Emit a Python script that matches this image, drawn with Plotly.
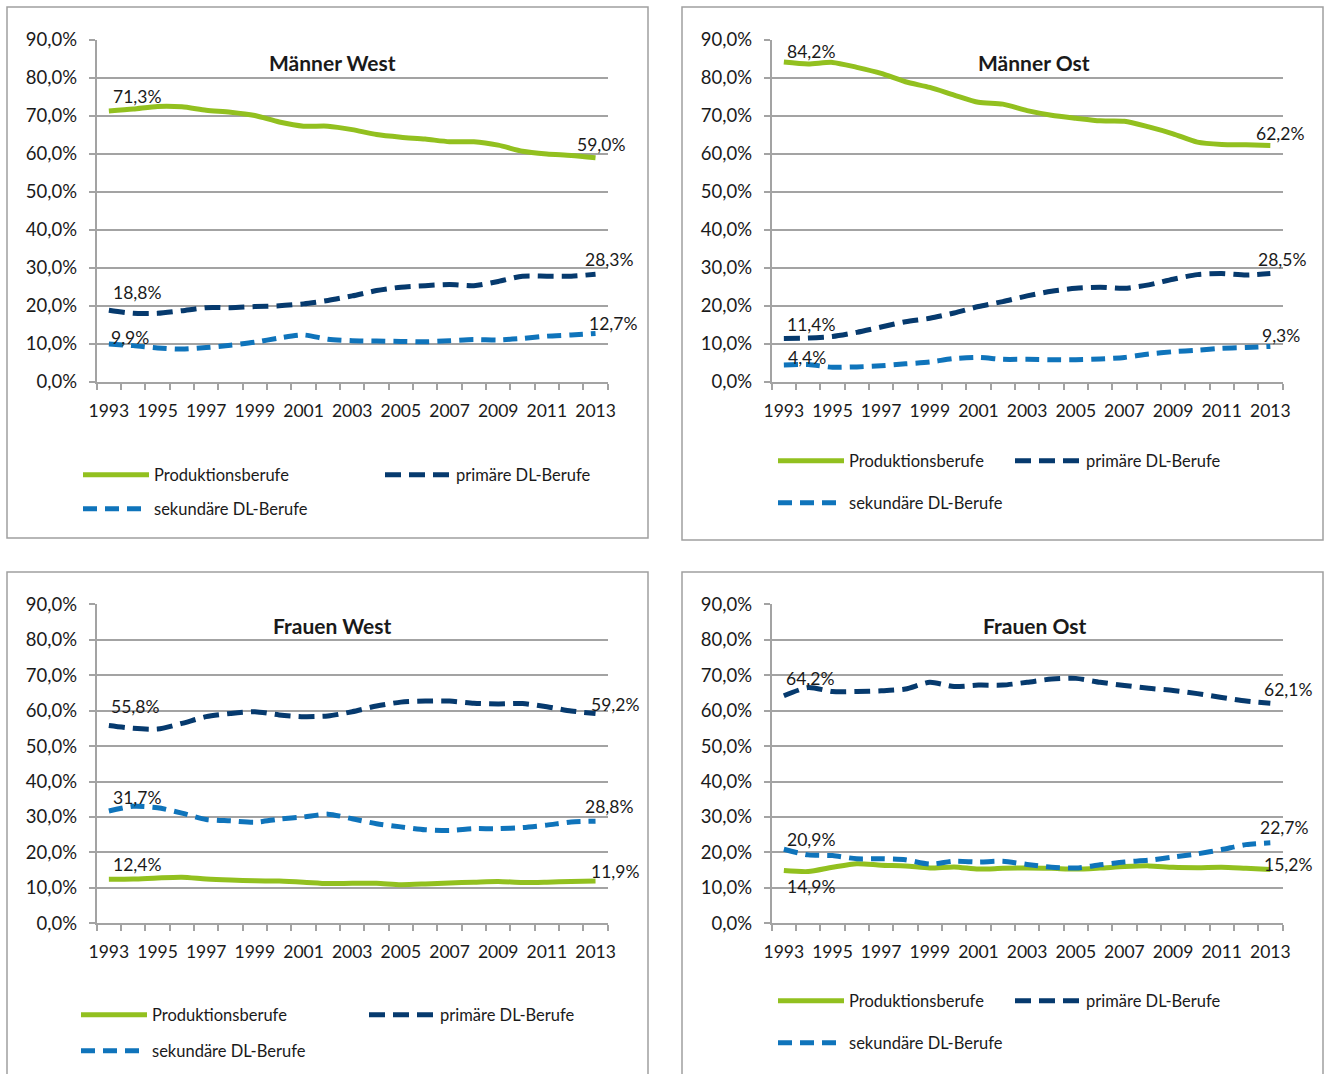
import plotly.graph_objects as go

# ---------------- data ----------------
years = list(range(1993, 2014))
panel_titles = ["Männer West", "Männer Ost", "Frauen West", "Frauen Ost"]
series_names = ["Produktionsberufe", "primäre DL-Berufe", "sekundäre DL-Berufe"]
y_ticks = [0, 10, 20, 30, 40, 50, 60, 70, 80, 90]
x_ticklabels = [1993, 1995, 1997, 1999, 2001, 2003, 2005, 2007, 2009, 2011, 2013]

mw_prod = [71.3, 71.8, 72.5, 72.4, 71.5, 71.0, 70.1, 68.4, 67.3, 67.3, 66.4, 65.1, 64.4, 63.9, 63.2, 63.2, 62.3, 60.7, 60.0, 59.6, 59.0]
mw_prim = [18.8, 18.0, 18.0, 18.7, 19.5, 19.5, 19.8, 20.0, 20.5, 21.4, 22.6, 24.0, 24.9, 25.3, 25.6, 25.3, 26.4, 27.8, 27.8, 27.8, 28.3]
mw_sek = [9.9, 9.5, 8.9, 8.6, 9.0, 9.6, 10.4, 11.5, 12.3, 11.2, 10.8, 10.7, 10.6, 10.5, 10.8, 11.1, 11.0, 11.4, 12.0, 12.3, 12.7]

mo_prod = [84.2, 83.7, 84.1, 82.8, 81.2, 79.0, 77.5, 75.5, 73.6, 73.1, 71.4, 70.2, 69.4, 68.7, 68.6, 67.1, 65.3, 63.1, 62.5, 62.4, 62.2]
mo_prim = [11.4, 11.5, 11.9, 13.0, 14.4, 15.8, 16.7, 18.1, 19.8, 21.1, 22.6, 23.8, 24.6, 24.9, 24.6, 25.5, 27.0, 28.2, 28.5, 28.1, 28.5]
mo_sek = [4.4, 4.5, 3.8, 3.9, 4.2, 4.7, 5.2, 6.1, 6.4, 5.9, 5.9, 5.8, 5.8, 6.0, 6.4, 7.3, 7.9, 8.3, 8.8, 9.0, 9.3]

fw_prod = [12.4, 12.5, 12.8, 13.0, 12.5, 12.2, 12.0, 11.9, 11.6, 11.2, 11.3, 11.3, 10.9, 11.1, 11.4, 11.6, 11.8, 11.5, 11.6, 11.8, 11.9]
fw_prim = [55.8, 55.0, 54.8, 56.4, 58.3, 59.2, 59.7, 58.8, 58.3, 58.5, 59.7, 61.3, 62.4, 62.7, 62.7, 62.1, 61.9, 62.0, 61.1, 59.9, 59.2]
fw_sek = [31.7, 33.0, 32.6, 31.1, 29.3, 28.9, 28.5, 29.4, 30.0, 30.8, 29.5, 28.1, 27.2, 26.4, 26.2, 26.7, 26.7, 27.0, 27.7, 28.6, 28.8]

fo_prod = [14.9, 14.6, 15.8, 16.8, 16.4, 16.2, 15.6, 15.9, 15.3, 15.5, 15.6, 15.5, 15.3, 15.6, 16.0, 16.2, 15.8, 15.7, 15.8, 15.5, 15.2]
fo_prim = [64.2, 66.5, 65.4, 65.4, 65.6, 66.1, 68.0, 66.8, 67.2, 67.2, 68.0, 68.9, 69.1, 68.0, 67.1, 66.3, 65.7, 64.8, 63.7, 62.7, 62.1]
fo_sek = [20.9, 19.3, 19.1, 18.2, 18.2, 17.9, 16.7, 17.5, 17.3, 17.5, 16.6, 15.8, 15.6, 16.5, 17.3, 17.8, 18.7, 19.6, 20.8, 22.2, 22.7]

panel_data = [
    [mw_prod, mw_prim, mw_sek],
    [mo_prod, mo_prim, mo_sek],
    [fw_prod, fw_prim, fw_sek],
    [fo_prod, fo_prim, fo_sek],
]

# ---------------- styling ----------------
W, H = 1326, 1074
FONT = "Lato"
GRID = "#a3a3a3"
TXT = "#1a1a1a"
series_style = [
    dict(color="#92c01f", width=5, dash="solid"),
    dict(color="#063a6e", width=5, dash="16px,8px"),
    dict(color="#0f74bb", width=5, dash="14px,8px"),
]
LEG_ITEM_W = 66  # legend line sample length

# plot-area pixel boxes (left, right, top, bottom)
plot_boxes = [
    (96.7, 607.7, 40.0, 381.7),
    (771.7, 1282.5, 40.0, 381.7),
    (96.7, 607.7, 604.3, 923.3),
    (771.7, 1282.5, 604.3, 923.3),
]
# panel frames (left, right, top, bottom)
frames = [(7, 648, 7, 538), (682, 1323, 7, 540), (7, 648, 572, 1080), (682, 1323, 572, 1080)]
title_pos = [(332, 63), (1034, 63), (332, 625), (1034, 625)]
# legend text start x and row y for each panel: (col1 text x, col2 text x, row1 y, row2 y)
legend_pos = [(154, 456, 475, 509), (849, 1086, 461, 503), (152, 440, 1015, 1051), (849, 1086, 1001, 1043)]
# label offsets (dx, dy) in px for first and last points of each series
label_offsets = [
    [[(28, -14), (5, -13)], [(28, -18), (13, -15)], [(21, -7), (17, -10)]],
    [[(27, -11), (10, -12)], [(27, -14), (12, -14)], [(23, -7), (11, -11)]],
    [[(28, -15), (19, -10)], [(26, -19), (19, -9)], [(28, -13), (13, -15)]],
    [[(27, 16), (18, -5)], [(26, -17), (18, -14)], [(27, -10), (14, -15)]],
]


def px_x(v):
    return v / W


def px_y(v):
    return 1 - v / H


def fmt(v):
    return f"{v:.1f}".replace(".", ",") + "%"


fig = go.Figure()
layout = dict(
    template="none",
    width=W, height=H,
    margin=dict(l=0, r=0, t=0, b=0, autoexpand=False),
    paper_bgcolor="white", plot_bgcolor="white",
    separators=",.",
    font=dict(family=FONT, size=17, color=TXT),
    showlegend=True,
)
annotations = []
shapes = []
legend_counter = 0

for p in range(4):
    sfx = "" if p == 0 else str(p + 1)
    xa, ya = "x" + sfx, "y" + sfx
    l, r, t, b = plot_boxes[p]
    layout["xaxis" + sfx] = dict(
        domain=[px_x(l), px_x(r)], anchor=ya, automargin=False,
        range=[years[0] - 0.5, years[-1] + 0.5],
        tickmode="array", tickvals=x_ticklabels, ticktext=[str(v) for v in x_ticklabels],
        ticks="", showgrid=False, zeroline=False,
        showline=True, linecolor=GRID, linewidth=2,
        tickfont=dict(family=FONT, size=17.5, color=TXT),
        ticklabelstandoff=12,
        minor=dict(tickmode="array", tickvals=[y - 0.5 for y in years] + [years[-1] + 0.5],
                   ticks="outside", ticklen=6, tickcolor=GRID, tickwidth=1.5, showgrid=False),
        fixedrange=True,
    )
    layout["yaxis" + sfx] = dict(
        domain=[px_y(b), px_y(t)], anchor=xa, automargin=False,
        range=[0, 90],
        tickmode="array", tickvals=y_ticks, ticktext=[fmt(v) for v in y_ticks],
        ticks="outside", ticklen=6, tickcolor=GRID, tickwidth=1.5,
        showgrid=True, gridcolor=GRID, gridwidth=2,
        zeroline=False, showline=True, linecolor=GRID, linewidth=2,
        tickfont=dict(family=FONT, size=18.5, color=TXT),
        ticklabelstandoff=8,
        fixedrange=True,
    )
    tx1, tx2, ry1, ry2 = legend_pos[p]
    legend_spots = [(tx1, ry1), (tx2, ry1), (tx1, ry2)]
    for s in range(3):
        vals = panel_data[p][s]
        st = series_style[s]
        legend_counter += 1
        lname = "legend" if legend_counter == 1 else f"legend{legend_counter}"
        fig.add_trace(go.Scatter(
            x=years, y=vals, mode="lines", name=series_names[s],
            line=dict(color=st["color"], width=st["width"], dash=st["dash"],
                      shape="spline", smoothing=0.7),
            xaxis=xa, yaxis=ya, legend=lname, hoverinfo="skip",
        ))
        lx, ly = legend_spots[s]
        layout[lname] = dict(
            x=px_x(lx - (LEG_ITEM_W + 10)), y=px_y(ly), xanchor="left", yanchor="middle",
            orientation="v", bgcolor="rgba(0,0,0,0)", borderwidth=0,
            itemwidth=LEG_ITEM_W,
            font=dict(family=FONT, size=16.5, color=TXT),
        )
        # first and last data labels
        for k, idx in enumerate([0, len(vals) - 1]):
            dx, dy = label_offsets[p][s][k]
            annotations.append(dict(
                x=years[idx], y=vals[idx], xref=xa, yref=ya,
                text=fmt(vals[idx]), showarrow=False,
                xanchor="center", yanchor="middle",
                xshift=dx, yshift=-dy,
                font=dict(family=FONT, size=17.5, color=TXT),
            ))
    # panel title
    tx, ty = title_pos[p]
    annotations.append(dict(
        x=px_x(tx), y=px_y(ty), xref="paper", yref="paper",
        text="<b>" + panel_titles[p] + "</b>", showarrow=False,
        xanchor="center", yanchor="middle",
        font=dict(family=FONT, size=21, color=TXT),
    ))
    fl, fr, ft, fb = frames[p]
    shapes.append(dict(
        type="rect", xref="paper", yref="paper",
        x0=px_x(fl), x1=px_x(fr), y0=px_y(fb), y1=px_y(ft),
        line=dict(color="#a0a0a0", width=1.5), fillcolor="rgba(0,0,0,0)", layer="below",
    ))

layout["annotations"] = annotations
layout["shapes"] = shapes
fig.update_layout(**layout)
fig.write_html(
    "out.html",
    config={"displayModeBar": False},
    post_script="document.body.style.margin='0px';document.body.style.overflow='hidden';",
)
